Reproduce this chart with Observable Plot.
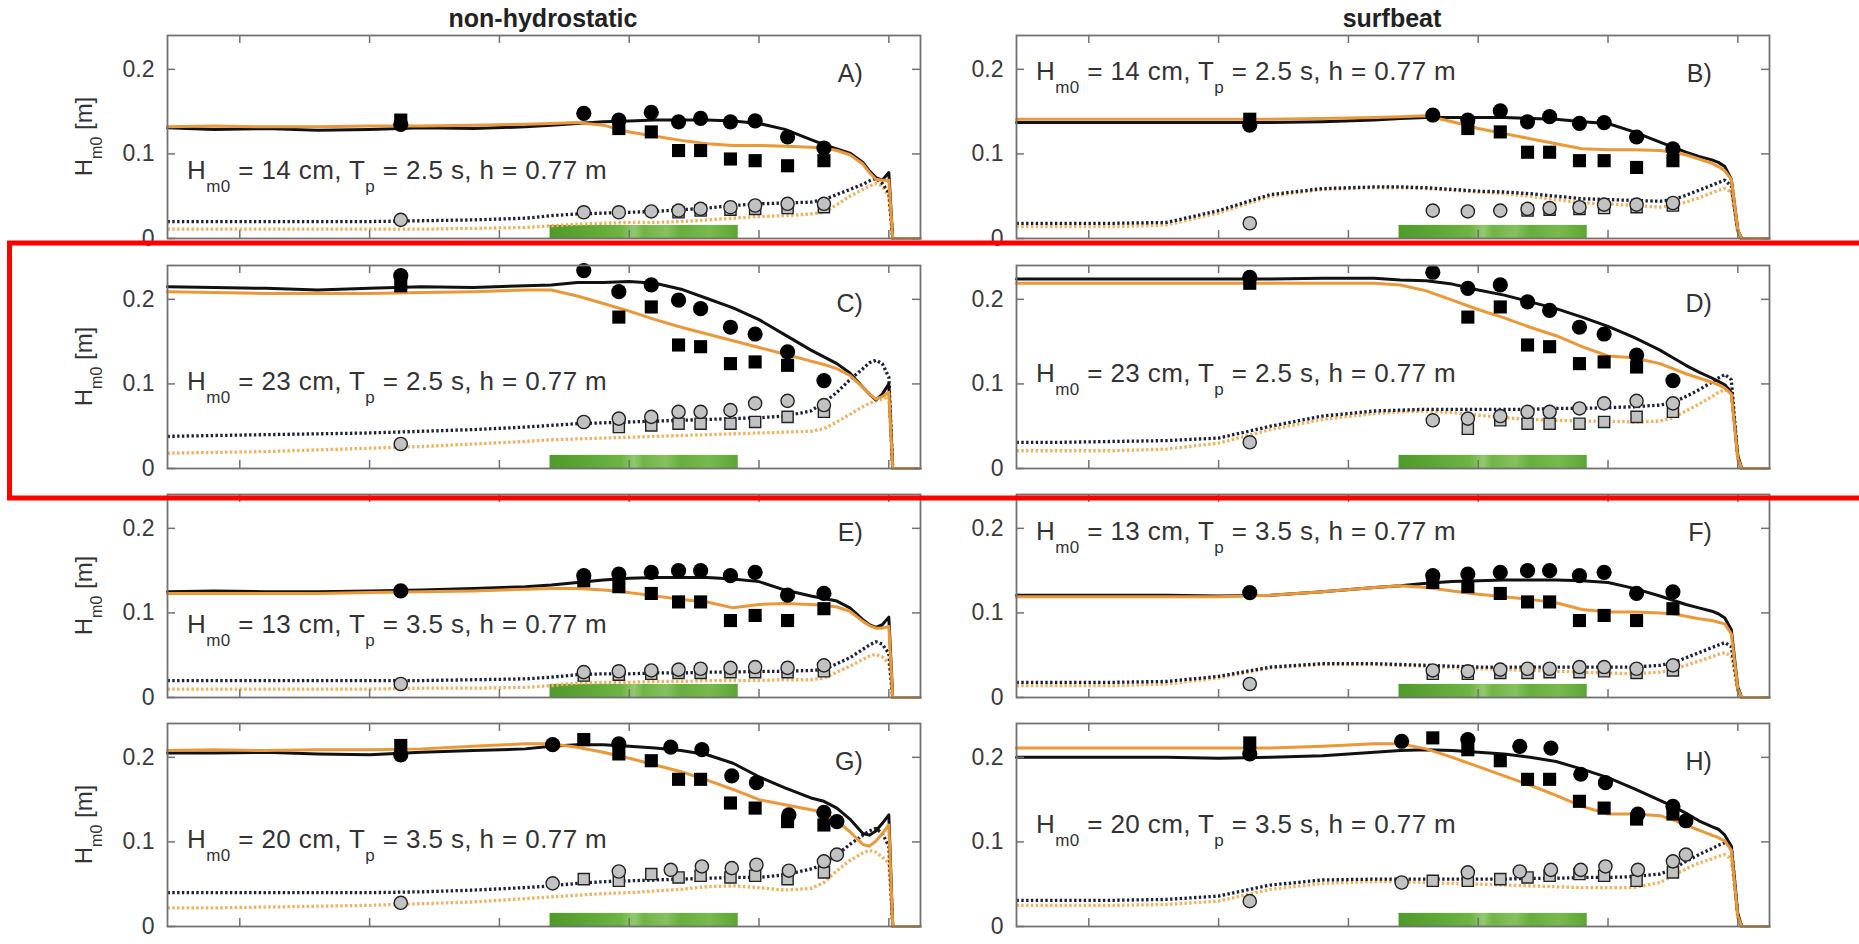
<!DOCTYPE html>
<html><head><meta charset="utf-8">
<script src="https://cdn.jsdelivr.net/npm/d3@7"></script>
<script src="https://cdn.jsdelivr.net/npm/@observablehq/plot@0.6"></script>
<style>
html,body{margin:0;padding:0;background:#fff;overflow:hidden;}
#fig{position:relative;width:1859px;height:944px;overflow:hidden;font-family:"Liberation Sans",Arial,Helvetica,sans-serif;}
.panel{position:absolute;}
#overlay{position:absolute;left:0;top:0;pointer-events:none;}
</style></head>
<body><div id="fig"></div>
<script>
// ---------- data ----------
const colTitles = ["non-hydrostatic", "surfbeat"];
const panelLetters = ["A)", "B)", "C)", "D)", "E)", "F)", "G)", "H)"];
const caseHm0 = [14, 14, 23, 23, 13, 13, 20, 20];
const caseTp = ["2.5", "2.5", "2.5", "2.5", "3.5", "3.5", "3.5", "3.5"];
const caseDepth = "0.77";
const yTicks = [0, 0.1, 0.2];
const yTickLabels = ["0", "0.1", "0.2"];
const xTicks = [10, 20, 30, 40, 50, 60];
const xDomain = [4.43, 62.44];
const yDomain = [0, 0.24];
const vegZone = [33.9, 48.4];
const vegHeight = 0.0155;

const xModel = [4.43, 8, 12, 16, 20, 24, 28, 32, 34, 36, 38, 40, 42, 44, 46, 48, 50, 52, 54, 55, 56, 57, 58, 58.5, 59, 59.5, 60, 60.3, 60.6, 62.44];
const xGauge = [22.4, 36.5, 39.2, 41.7, 43.8, 45.5, 47.8, 49.7, 52.2, 55.0];
const xGaugeGH = [22.4, 34.1, 39.2, 43.2, 45.6, 47.9, 49.8, 52.3, 55.0, 56.0];

// panel A
const A_black = [0.131,0.129,0.130,0.128,0.129,0.131,0.130,0.132,0.134,0.136,0.138,0.139,0.140,0.140,0.140,0.139,0.136,0.129,0.117,0.111,0.106,0.101,0.090,0.080,0.072,0.069,0.078,0,null,null];
const A_orange = [0.132,0.133,0.132,0.132,0.133,0.133,0.134,0.135,0.136,0.137,0.134,0.126,0.121,0.116,0.112,0.110,0.110,0.109,0.108,0.107,0.104,0.099,0.088,0.078,0.070,0.069,0.069,0,0,0];
const A_blackLF = [0.020,0.020,0.020,0.020,0.020,0.021,0.022,0.024,0.027,0.029,0.030,0.031,0.032,0.034,0.036,0.039,0.041,0.042,0.043,0.046,0.052,0.058,0.064,0.068,0.071,0.065,0.054,0,null,null];
const A_orangeLF = [0.011,0.011,0.011,0.011,0.011,0.011,0.012,0.013,0.015,0.017,0.018,0.019,0.019,0.020,0.022,0.024,0.026,0.027,0.029,0.031,0.040,0.050,0.058,0.062,0.065,0.062,0.050,0,null,null];
const A_circ = [0.135,0.148,0.140,0.149,0.138,0.142,0.138,0.139,0.120,0.107];
const A_sq = [0.140,null,0.130,0.126,0.104,0.104,0.094,0.092,0.086,0.092];
const A_gcirc = [0.022,0.031,0.031,0.032,0.033,0.035,0.037,0.039,0.041,0.041];
const A_gsq = [null,null,null,null,0.031,0.033,0.034,0.035,0.036,0.037];
// panel B
const B_black = [0.137,0.137,0.137,0.137,0.137,0.137,0.138,0.140,0.142,0.143,0.143,0.143,0.143,0.142,0.141,0.138,0.136,0.126,0.114,0.108,0.102,0.097,0.093,0.090,0.085,0.070,0.010,0,null,null];
const B_orange = [0.141,0.141,0.141,0.141,0.141,0.141,0.142,0.143,0.144,0.145,0.138,0.130,0.124,0.118,0.112,0.106,0.105,0.105,0.104,0.102,0.099,0.094,0.089,0.085,0.080,0.070,0.010,0,0,0];
const B_blackLF = [0.018,0.018,0.018,0.019,0.033,0.052,0.059,0.061,0.061,0.060,0.058,0.056,0.055,0.053,0.050,0.047,0.046,0.045,0.044,0.046,0.051,0.057,0.063,0.066,0.069,0.062,0.008,0,null,null];
const B_orangeLF = [0.014,0.014,0.014,0.016,0.030,0.050,0.058,0.060,0.060,0.059,0.057,0.055,0.053,0.050,0.046,0.042,0.041,0.039,0.037,0.039,0.043,0.048,0.054,0.057,0.059,0.055,0.008,0,null,null];
const B_circ = [0.134,0.146,0.140,0.151,0.138,0.144,0.136,0.137,0.120,0.106];
const B_sq = [0.141,null,0.130,0.126,0.102,0.102,0.092,0.092,0.084,0.092];
const B_gcirc = [0.018,0.033,0.032,0.033,0.035,0.036,0.037,0.040,0.040,0.042];
const B_gsq = [null,null,null,null,0.033,0.034,0.035,0.036,0.037,0.039];
// panel C
const C_black = [0.215,0.214,0.213,0.211,0.213,0.215,0.214,0.216,0.217,0.220,0.220,0.221,0.219,0.212,0.201,0.190,0.176,0.158,0.140,0.132,0.124,0.113,0.096,0.088,0.081,0.088,0.100,0,null,null];
const C_orange = [0.209,0.208,0.207,0.207,0.207,0.208,0.209,0.211,0.211,0.204,0.195,0.186,0.176,0.167,0.159,0.151,0.143,0.135,0.127,0.123,0.118,0.110,0.096,0.088,0.082,0.085,0.090,0,0,0];
const C_blackLF = [0.038,0.039,0.040,0.041,0.042,0.044,0.046,0.049,0.051,0.053,0.054,0.055,0.056,0.057,0.058,0.059,0.060,0.062,0.068,0.078,0.090,0.105,0.118,0.125,0.128,0.124,0.108,0,null,null];
const C_orangeLF = [0.018,0.019,0.020,0.022,0.024,0.026,0.029,0.032,0.034,0.035,0.036,0.037,0.038,0.039,0.040,0.041,0.042,0.043,0.044,0.047,0.055,0.064,0.073,0.077,0.080,0.082,0.085,0,null,null];
const C_circ = [0.228,0.234,0.209,0.217,0.199,0.189,0.167,0.159,0.138,0.104];
const C_sq = [0.216,null,0.179,0.191,0.146,0.144,0.124,0.126,0.122,null];
const C_gcirc = [0.029,0.055,0.059,0.061,0.067,0.067,0.069,0.077,0.080,0.075];
const C_gsq = [null,null,0.049,0.051,0.053,0.053,0.053,0.055,0.061,0.067];
// panel D
const D_black = [0.224,0.224,0.224,0.224,0.224,0.224,0.225,0.225,0.223,0.222,0.218,0.211,0.205,0.197,0.189,0.179,0.168,0.155,0.140,0.131,0.122,0.114,0.107,0.103,0.099,0.090,0.015,0,null,null];
const D_orange = [0.219,0.219,0.219,0.219,0.219,0.219,0.219,0.219,0.217,0.210,0.199,0.188,0.178,0.167,0.157,0.144,0.133,0.131,0.124,0.118,0.112,0.107,0.102,0.099,0.095,0.088,0.012,0,0,0];
const D_blackLF = [0.031,0.031,0.032,0.033,0.036,0.050,0.062,0.068,0.069,0.070,0.070,0.070,0.070,0.070,0.071,0.071,0.072,0.073,0.075,0.078,0.085,0.093,0.102,0.107,0.111,0.105,0.012,0,null,null];
const D_orangeLF = [0.021,0.021,0.021,0.023,0.030,0.046,0.058,0.065,0.067,0.068,0.066,0.063,0.060,0.058,0.057,0.056,0.056,0.055,0.056,0.060,0.068,0.076,0.085,0.090,0.093,0.090,0.010,0,null,null];
const D_circ = [0.226,0.232,0.213,0.217,0.197,0.187,0.167,0.159,0.134,0.104];
const D_sq = [0.219,null,0.179,0.191,0.146,0.144,0.124,0.126,0.120,null];
const D_gcirc = [0.031,0.057,0.059,0.062,0.067,0.067,0.071,0.077,0.080,0.077];
const D_gsq = [null,null,0.047,0.057,0.053,0.053,0.053,0.055,0.061,0.067];
// panel E
const E_black = [0.125,0.126,0.125,0.125,0.126,0.127,0.129,0.131,0.133,0.136,0.139,0.141,0.142,0.142,0.142,0.140,0.137,0.127,0.120,0.117,0.114,0.106,0.092,0.086,0.083,0.086,0.095,0,null,null];
const E_orange = [0.123,0.123,0.123,0.123,0.124,0.125,0.126,0.128,0.129,0.129,0.127,0.124,0.120,0.116,0.113,0.106,0.110,0.111,0.110,0.109,0.107,0.102,0.090,0.085,0.082,0.082,0.084,0,0,0];
const E_blackLF = [0.020,0.020,0.020,0.020,0.020,0.020,0.021,0.022,0.024,0.027,0.028,0.028,0.029,0.029,0.030,0.030,0.031,0.031,0.032,0.033,0.040,0.047,0.057,0.062,0.066,0.063,0.052,0,null,null];
const E_orangeLF = [0.010,0.010,0.010,0.010,0.010,0.011,0.011,0.012,0.014,0.017,0.018,0.018,0.019,0.019,0.020,0.020,0.020,0.021,0.021,0.023,0.030,0.037,0.045,0.049,0.051,0.048,0.040,0,null,null];
const E_circ = [0.126,0.144,0.146,0.148,0.150,0.150,0.144,0.148,0.121,0.123];
const E_sq = [null,0.138,0.131,0.123,0.113,0.113,0.091,0.097,0.091,0.105];
const E_gcirc = [0.016,0.030,0.031,0.032,0.033,0.034,0.035,0.036,0.035,0.038];
const E_gsq = [null,0.026,0.027,0.028,0.029,0.029,0.030,0.030,0.030,0.031];
// panel F
const F_black = [0.121,0.121,0.121,0.121,0.120,0.121,0.125,0.130,0.132,0.135,0.137,0.138,0.139,0.139,0.139,0.138,0.136,0.129,0.120,0.115,0.110,0.106,0.102,0.099,0.094,0.080,0.012,0,null,null];
const F_orange = [0.119,0.119,0.119,0.119,0.119,0.121,0.125,0.130,0.132,0.130,0.126,0.122,0.119,0.116,0.112,0.104,0.101,0.101,0.100,0.099,0.096,0.093,0.091,0.089,0.087,0.075,0.010,0,0,0];
const F_blackLF = [0.018,0.018,0.018,0.019,0.025,0.036,0.040,0.040,0.039,0.038,0.037,0.036,0.036,0.036,0.036,0.036,0.036,0.036,0.038,0.041,0.047,0.053,0.059,0.062,0.065,0.060,0.010,0,null,null];
const F_orangeLF = [0.014,0.014,0.014,0.016,0.023,0.035,0.039,0.039,0.038,0.037,0.035,0.034,0.033,0.032,0.031,0.030,0.029,0.028,0.030,0.033,0.038,0.043,0.048,0.051,0.053,0.049,0.008,0,null,null];
const F_circ = [0.124,0.144,0.146,0.148,0.150,0.150,0.144,0.148,0.123,0.125];
const F_sq = [null,0.136,0.131,0.123,0.113,0.113,0.091,0.097,0.091,0.105];
const F_gcirc = [0.016,0.032,0.031,0.033,0.034,0.034,0.036,0.036,0.034,0.038];
const F_gsq = [null,0.028,0.028,0.029,0.029,0.030,0.030,0.031,0.029,0.032];
// panel G
const G_black = [0.205,0.205,0.206,0.204,0.203,0.206,0.208,0.210,0.213,0.215,0.215,0.213,0.211,0.208,0.203,0.193,0.177,0.164,0.152,0.148,0.140,0.127,0.110,0.108,0.113,0.122,0.132,0,null,null];
const G_orange = [0.208,0.209,0.208,0.209,0.209,0.210,0.213,0.216,0.216,0.212,0.206,0.199,0.191,0.183,0.173,0.162,0.150,0.144,0.138,0.135,0.125,0.112,0.097,0.095,0.101,0.110,0.120,0,0,0];
const G_blackLF = [0.040,0.040,0.040,0.040,0.040,0.041,0.043,0.046,0.048,0.051,0.053,0.054,0.055,0.056,0.057,0.058,0.058,0.061,0.068,0.073,0.085,0.097,0.108,0.113,0.116,0.110,0.095,0,null,null];
const G_orangeLF = [0.022,0.022,0.023,0.024,0.025,0.027,0.029,0.033,0.035,0.037,0.039,0.040,0.042,0.044,0.047,0.048,0.046,0.043,0.045,0.052,0.066,0.078,0.087,0.090,0.088,0.082,0.075,0,null,null];
const G_circ = [0.203,0.215,0.216,0.212,0.209,0.178,0.170,0.132,0.135,0.124];
const G_sq = [0.214,0.221,0.204,0.196,0.174,0.174,0.146,0.140,0.124,0.120];
const G_gcirc = [0.028,0.051,0.065,0.067,0.071,0.069,0.073,0.066,0.077,0.085];
const G_gsq = [null,0.056,0.054,0.062,0.058,0.060,0.058,0.060,0.056,0.064];
// panel H
const H_black = [0.200,0.200,0.200,0.200,0.199,0.200,0.202,0.206,0.208,0.209,0.208,0.206,0.204,0.200,0.195,0.186,0.176,0.163,0.149,0.142,0.134,0.125,0.118,0.115,0.108,0.095,0.015,0,null,null];
const H_orange = [0.211,0.211,0.211,0.211,0.211,0.211,0.213,0.216,0.216,0.210,0.200,0.189,0.178,0.167,0.155,0.142,0.133,0.133,0.131,0.126,0.120,0.114,0.108,0.105,0.101,0.090,0.012,0,0,0];
const H_blackLF = [0.031,0.031,0.031,0.032,0.036,0.049,0.055,0.056,0.056,0.056,0.056,0.056,0.056,0.057,0.057,0.058,0.058,0.059,0.062,0.068,0.077,0.085,0.092,0.096,0.099,0.095,0.012,0,null,null];
const H_orangeLF = [0.025,0.025,0.025,0.026,0.030,0.044,0.051,0.053,0.053,0.052,0.051,0.050,0.049,0.048,0.047,0.046,0.046,0.046,0.052,0.060,0.068,0.075,0.080,0.083,0.085,0.080,0.010,0,null,null];
const H_circ = [0.204,0.219,0.221,0.213,0.211,0.180,0.170,0.133,0.142,0.125];
const H_sq = [0.217,0.223,0.209,0.196,0.174,0.174,0.148,0.140,0.127,0.133];
const H_gcirc = [0.030,0.052,0.064,0.065,0.067,0.067,0.071,0.067,0.077,0.085];
const H_gsq = [null,0.054,0.054,0.056,0.058,0.060,0.062,0.060,0.054,0.064];

// ---------- layout / style ----------
const FONT = '"Liberation Sans", Arial, Helvetica, sans-serif';
const PW = 753, PH = 203;
const rowTops = [35, 265, 494, 723];
const colLeft = [0, 930];
const colMarginLeft = [167, 86];
const MT = 6, MB = 8, MR = 14;
const ORANGE = "#ea9838", ORANGE_LF = "#f2b05a", BLACK_LF = "#1b2038", FRAME = "#727272";
const DOTS = {strokeWidth: 3.3, strokeDasharray: "2.4,2.4", strokeLinecap: "butt", strokeLinejoin: "miter"};

const panels = [
  {k:A_black,o:A_orange,kLF:A_blackLF,oLF:A_orangeLF,circ:A_circ,sq:A_sq,gcirc:A_gcirc,gsq:A_gsq,xc:xGauge,annY:0.070},
  {k:B_black,o:B_orange,kLF:B_blackLF,oLF:B_orangeLF,circ:B_circ,sq:B_sq,gcirc:B_gcirc,gsq:B_gsq,xc:xGauge,annY:0.187},
  {k:C_black,o:C_orange,kLF:C_blackLF,oLF:C_orangeLF,circ:C_circ,sq:C_sq,gcirc:C_gcirc,gsq:C_gsq,xc:xGauge,annY:0.092},
  {k:D_black,o:D_orange,kLF:D_blackLF,oLF:D_orangeLF,circ:D_circ,sq:D_sq,gcirc:D_gcirc,gsq:D_gsq,xc:xGauge,annY:0.102},
  {k:E_black,o:E_orange,kLF:E_blackLF,oLF:E_orangeLF,circ:E_circ,sq:E_sq,gcirc:E_gcirc,gsq:E_gsq,xc:xGauge,annY:0.076},
  {k:F_black,o:F_orange,kLF:F_blackLF,oLF:F_orangeLF,circ:F_circ,sq:F_sq,gcirc:F_gcirc,gsq:F_gsq,xc:xGauge,annY:0.186},
  {k:G_black,o:G_orange,kLF:G_blackLF,oLF:G_orangeLF,circ:G_circ,sq:G_sq,gcirc:G_gcirc,gsq:G_gsq,xc:xGaugeGH,annY:0.092},
  {k:H_black,o:H_orange,kLF:H_blackLF,oLF:H_orangeLF,circ:H_circ,sq:H_sq,gcirc:H_gcirc,gsq:H_gsq,xc:xGaugeGH,annY:0.110}
];

const fig = document.getElementById("fig");

function series(ys) { return xModel.map((x, i) => ({x, y: ys[i]})); }
function pts(xs, ys) { return xs.map((x, i) => ({x, y: ys[i]})).filter(d => d.y != null); }

function scaleFn(plot, name) {
  const s = plot.scale(name);
  if (s && typeof s.apply === "function") return v => s.apply(v);
  return d3.scaleLinear().domain(s.domain).range(s.range);
}

function addSubText(sel, parts, size, subSize, subDy) {
  let shifted = false;
  for (const [txt, sub] of parts) {
    const t = sel.append("tspan").text(txt);
    if (sub && !shifted) { t.attr("font-size", subSize).attr("dy", subDy); shifted = true; }
    else if (!sub && shifted) { t.attr("font-size", size).attr("dy", -subDy); shifted = false; }
  }
}

panels.forEach((p, idx) => {
  const col = idx % 2, row = Math.floor(idx / 2);
  const ML = colMarginLeft[col];
  const gradId = "vegGrad" + idx;
  const plot = Plot.plot({
    width: ML + PW + MR, height: MT + PH + MB,
    marginLeft: ML, marginRight: MR, marginTop: MT, marginBottom: MB,
    x: {domain: xDomain, axis: null},
    y: {domain: yDomain},
    style: {fontFamily: FONT, fontSize: "23px", background: "transparent", overflow: "visible"},
    marks: [
      Plot.rect([{x1: vegZone[0], x2: vegZone[1], h: vegHeight}], {x1: "x1", x2: "x2", y1: () => 0, y2: "h", fill: `url(#${gradId})`}),
      Plot.line(series(p.oLF), {x: "x", y: "y", stroke: ORANGE_LF, ...DOTS}),
      Plot.line(series(p.kLF), {x: "x", y: "y", stroke: BLACK_LF, ...DOTS}),
      Plot.line(series(p.k), {x: "x", y: "y", stroke: "#111", strokeWidth: 3}),
      Plot.line(series(p.o), {x: "x", y: "y", stroke: ORANGE, strokeWidth: 3}),
      Plot.dot(pts(xGauge, p.gsq), {x: "x", y: "y", symbol: "square", r: 6.3, fill: "#c2c2c2", stroke: "#222", strokeWidth: 1.4}),
      Plot.dot(pts(p.xc, p.gcirc), {x: "x", y: "y", symbol: "circle", r: 6.6, fill: "#c2c2c2", stroke: "#222", strokeWidth: 1.4}),
      Plot.dot(pts(xGauge, p.sq), {x: "x", y: "y", symbol: "square", r: 7.4, fill: "#000", stroke: "none"}),
      Plot.dot(pts(p.xc, p.circ), {x: "x", y: "y", symbol: "circle", r: 7.6, fill: "#000", stroke: "none"}),
      Plot.frame({stroke: FRAME, strokeWidth: 1.8}),
      Plot.ruleY(yTicks, {insetRight: PW - 8, stroke: FRAME, strokeWidth: 1.5}),
      Plot.ruleY(yTicks, {insetLeft: PW - 8, stroke: FRAME, strokeWidth: 1.5}),
      Plot.ruleX(xTicks, {insetTop: PH - 8, stroke: FRAME, strokeWidth: 1.5}),
      Plot.ruleX(xTicks, {insetBottom: PH - 8, stroke: FRAME, strokeWidth: 1.5}),
      Plot.axisY({ticks: yTicks, tickSize: 0, tickPadding: 13, label: null, fontSize: 23, fill: "#3a3a3a",
                  tickFormat: d => yTickLabels[yTicks.indexOf(d)]}),
      Plot.text([panelLetters[idx]], {x: () => 58.0, y: () => 0.195, text: d => d, textAnchor: "end", fontSize: 25, fill: "#333"})
    ]
  });
  const svg = d3.select(plot);
  const defs = svg.insert("defs", ":first-child");
  const g = defs.append("linearGradient").attr("id", gradId).attr("x1", "0").attr("x2", "1").attr("y1", "0").attr("y2", "0");
  [[0,"#4f9a2b"],[0.2,"#5ea737"],[0.38,"#6db443"],[0.45,"#93c86f"],[0.5,"#71b447"],[0.62,"#86c060"],[0.7,"#66ae3d"],[0.85,"#79b94f"],[1,"#5ba634"]]
    .forEach(([o, c]) => g.append("stop").attr("offset", o).attr("stop-color", c));

  const sx = scaleFn(plot, "x"), sy = scaleFn(plot, "y");
  // annotation with subscripts
  const ann = svg.append("text")
    .attr("x", sx(5.97)).attr("y", sy(p.annY))
    .attr("text-anchor", "start")
    .attr("font-family", FONT).attr("font-size", 26).attr("fill", "#333")
    .attr("letter-spacing", "0.4px")
    .style("white-space", "pre");
  addSubText(ann, [["H", 0], ["m0", 1], [` = ${caseHm0[idx]} cm, T`, 0], ["p", 1], [` = ${caseTp[idx]} s, h = ${caseDepth} m`, 0]], 26, 17, 13);

  if (col === 0) {
    const yl = svg.append("text")
      .attr("transform", `translate(92,${MT + PH / 2}) rotate(-90)`)
      .attr("text-anchor", "middle")
      .attr("font-family", FONT).attr("font-size", 24).attr("fill", "#333")
      .style("white-space", "pre");
    addSubText(yl, [["H", 0], ["m0", 1], [" [m]", 0]], 24, 16, 10);
  }

  const div = document.createElement("div");
  div.className = "panel";
  div.style.left = colLeft[col] + "px";
  div.style.top = (rowTops[row] - MT) + "px";
  div.appendChild(plot);
  fig.appendChild(div);
});

// overlay: column titles and red highlight box
const ov = d3.select(fig).append("svg").attr("id", "overlay").attr("width", 1859).attr("height", 944);
const titleCenters = [543, 1392];
colTitles.forEach((t, i) => {
  ov.append("text").attr("x", titleCenters[i]).attr("y", 27).attr("text-anchor", "middle")
    .attr("font-family", FONT).attr("font-size", 25).attr("font-weight", "bold").attr("fill", "#222").text(t);
});
ov.append("rect").attr("x", 9.5).attr("y", 243).attr("width", 1900).attr("height", 255)
  .attr("fill", "none").attr("stroke", "#ff0000").attr("stroke-width", 5);
</script></body></html>
